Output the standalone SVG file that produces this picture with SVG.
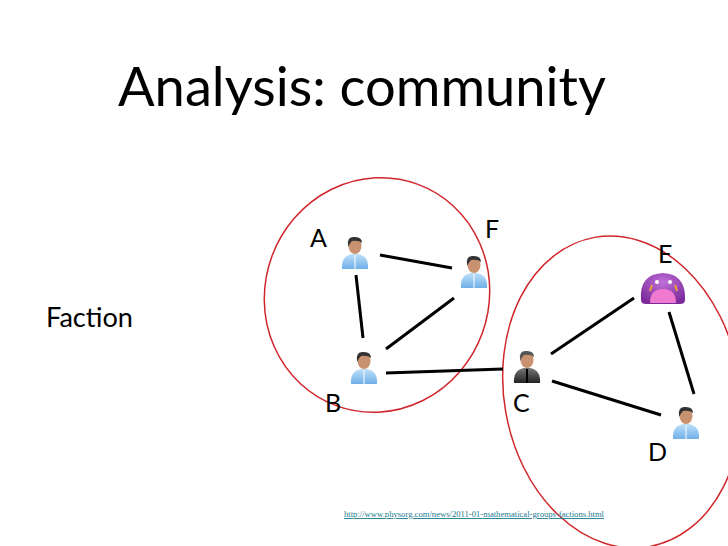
<svg xmlns="http://www.w3.org/2000/svg" width="728" height="546" viewBox="0 0 728 546">
<style>
text{font-family:Lato,"Liberation Sans",sans-serif;fill:#000}
.lbl{font-size:25px}
.e{stroke:#000;stroke-width:3;fill:none}
.ring{fill:none;stroke:#d0262b;stroke-width:1.5}
</style>
<defs>
<linearGradient id="bl" x1="0" y1="0" x2="0" y2="1"><stop offset="0" stop-color="#bfe0fa"/><stop offset="1" stop-color="#6fb0e8"/></linearGradient>
<linearGradient id="dk" x1="0" y1="0" x2="0" y2="1"><stop offset="0" stop-color="#777"/><stop offset="1" stop-color="#222"/></linearGradient>
<radialGradient id="mo" cx="0.5" cy="0.3" r="0.7"><stop offset="0" stop-color="#c070d8"/><stop offset="1" stop-color="#7a2a9a"/></radialGradient>
<g id="p">
<path d="M-13,18 Q-14,5 -3,3 L3,3 Q14,5 13,18 Z" fill="url(#bl)"/>
<line x1="0" y1="4" x2="0" y2="18" stroke="#fff" stroke-width="1"/>
<ellipse cx="0" cy="-5" rx="6.5" ry="8" fill="#c89270"/>
<path d="M-7,-6 Q-8,-15 0,-14 Q7,-14 7,-8 Q4,-11 -3,-10 Q-5,-8 -7,-4 Z" fill="#333"/>
</g>
<g id="pd">
<path d="M-13,18 Q-14,5 -3,3 L3,3 Q14,5 13,18 Z" fill="url(#dk)"/>
<path d="M-1,4 L1,4 L1,18 L-1,18 Z" fill="#000"/>
<ellipse cx="0" cy="-5" rx="6.5" ry="8" fill="#c89270"/>
<path d="M-7,-6 Q-8,-15 0,-14 Q7,-14 7,-8 Q4,-11 -3,-10 Q-5,-8 -7,-4 Z" fill="#555"/>
</g>
</defs>
<rect width="728" height="546" fill="#fff"/>
<text x="118" y="106" font-size="54" textLength="488" lengthAdjust="spacingAndGlyphs">Analysis: community</text>
<text x="46" y="327" font-size="26" textLength="87" lengthAdjust="spacingAndGlyphs">Faction</text>
<ellipse class="ring" cx="377" cy="295" rx="112" ry="118" transform="rotate(20 377 295)"/>
<ellipse class="ring" cx="622" cy="392" rx="118" ry="157" transform="rotate(-10 622 392)"/>
<g id="connectors">
<line class="e" x1="380" y1="255" x2="452" y2="268"/>
<line class="e" x1="356" y1="275" x2="363" y2="338"/>
<line class="e" x1="454" y1="298" x2="386" y2="349"/>
<line class="e" x1="386" y1="373" x2="503" y2="369"/>
<line class="e" x1="551" y1="354" x2="634" y2="298"/>
<line class="e" x1="669" y1="312" x2="694" y2="394"/>
<line class="e" x1="552" y1="381" x2="661" y2="415"/>
</g>
<g id="A"><use href="#p" x="355" y="251"/><text class="lbl" x="310" y="247">A</text></g>
<g id="F"><use href="#p" x="474" y="270"/><text class="lbl" x="485" y="238">F</text></g>
<g id="B"><use href="#p" x="364" y="366"/><text class="lbl" x="325" y="412">B</text></g>
<g id="C"><use href="#pd" x="527" y="365"/><text class="lbl" x="513" y="412">C</text></g>
<g id="D"><use href="#p" x="686" y="421"/><text class="lbl" x="648" y="461">D</text></g>
<g id="E">
<path d="M641,300 Q639,274 663,273 Q686,274 685,300 Q685,304 680,304 L646,304 Q641,304 641,300 Z" fill="url(#mo)"/>
<path d="M650,303 Q650,289 663,289 Q676,289 676,303 Z" fill="#f07ad0"/>
<circle cx="657" cy="282" r="2" fill="#fff"/><circle cx="670" cy="282" r="2" fill="#fff"/>
<path d="M652,285 L650,291 M675,285 L677,291" stroke="#f0a030" stroke-width="2"/>
<text class="lbl" x="658" y="263">E</text>
</g>
<text x="344" y="517" font-size="9" textLength="260" lengthAdjust="spacingAndGlyphs" style="fill:#1a7a90;font-family:'Liberation Serif',serif" text-decoration="underline">http://www.physorg.com/news/2011-01-mathematical-groups-factions.html</text>
</svg>
